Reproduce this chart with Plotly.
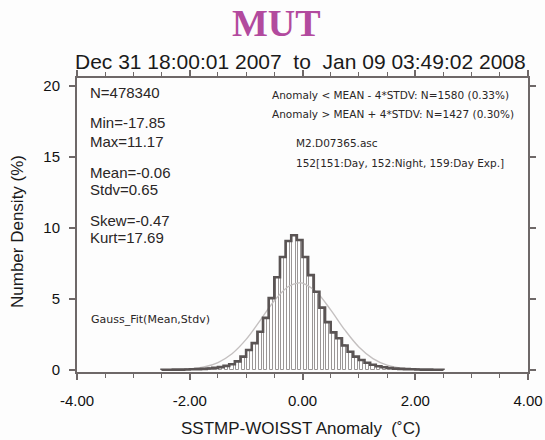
import numpy as np
import plotly.graph_objects as go

# ---- data ----
BIN_START = -2.5
BIN_WIDTH = 0.1
density_pct = [0.02, 0.02, 0.03, 0.03, 0.04, 0.05, 0.06, 0.08, 0.11, 0.15,
               0.20, 0.29, 0.41, 0.61, 0.94, 1.41, 1.89, 2.69, 3.67, 5.06,
               6.53, 7.96, 9.08, 9.49, 9.15, 7.96, 6.68, 5.51, 4.39, 3.37,
               2.65, 2.24, 1.73, 1.29, 0.94, 0.70, 0.51, 0.37, 0.27, 0.19,
               0.14, 0.10, 0.08, 0.06, 0.05, 0.04, 0.03, 0.03, 0.02, 0.02]

gauss_x = [-2.5, -2.25, -2.0, -1.75, -1.5, -1.25, -1.0, -0.75, -0.5, -0.25, -0.06,
           0.0, 0.25, 0.5, 0.75, 1.0, 1.25, 1.5, 1.75, 2.0, 2.25, 2.5]
gauss_y = [0.005, 0.021, 0.071, 0.209, 0.528, 1.149, 2.157, 3.493, 4.881, 5.882, 6.138,
           6.112, 5.478, 4.235, 2.824, 1.623, 0.805, 0.344, 0.127, 0.040, 0.011, 0.003]

x_tick_vals = [-4, -2, 0, 2, 4]
x_tick_text = ["-4.00", "-2.00", "0.00", "2.00", "4.00"]
y_tick_vals = [0, 5, 10, 15, 20]

title_text = "MUT"
subtitle_text = "Dec 31 18:00:01 2007  to  Jan 09 03:49:02 2008"
stats_left = [("N=478340", 93), ("Min=-17.85", 123), ("Max=11.17", 141),
              ("Mean=-0.06", 172), ("Stdv=0.65", 189),
              ("Skew=-0.47", 220), ("Kurt=17.69", 238)]
stats_right = [("Anomaly < MEAN - 4*STDV: N=1580 (0.33%)", 270, 95, 10.5),
               ("Anomaly > MEAN + 4*STDV: N=1427 (0.30%)", 270, 114, 10.5),
               ("M2.D07365.asc", 294, 143, 10.5),
               ("152[151:Day, 152:Night, 159:Day Exp.]", 294, 163, 10.5)]

# ---- derived ----
n = len(density_pct)
left_edges = BIN_START + BIN_WIDTH * np.arange(n)
centers = left_edges + BIN_WIDTH / 2
step_x = list(left_edges) + [left_edges[-1] + BIN_WIDTH]
step_y = list(density_pct) + [density_pct[-1]]

fig = go.Figure()
fig.add_trace(go.Bar(x=centers, y=density_pct, width=BIN_WIDTH * 0.55,
                     marker=dict(color="white", line=dict(color="#9a9696", width=1)),
                     showlegend=False))
fig.add_trace(go.Scatter(x=gauss_x, y=gauss_y, mode="lines",
                         line=dict(color="#c4c0c0", width=1.4, shape="spline"),
                         showlegend=False))
fig.add_trace(go.Scatter(x=[step_x[0]] + step_x + [step_x[-1]],
                         y=[0] + step_y + [0],
                         mode="lines", line=dict(color="#5a5454", width=2.6, shape="hv"),
                         showlegend=False))

W, H = 545, 440
L, R, T, B = 77, 528, 78, 372

def px(xpix):
    return (xpix - L) / (R - L)

def py(ypix):
    return (B - ypix) / (B - T)

ann = []
ann.append(dict(text="<b>" + title_text + "</b>", x=px(276), y=py(23), xref="paper", yref="paper",
                showarrow=False, font=dict(family="Liberation Serif", size=38, color="#b24a9e"),
                xanchor="center", yanchor="middle"))
ann.append(dict(text=subtitle_text, x=px(300), y=py(62), xref="paper", yref="paper",
                showarrow=False, font=dict(family="Liberation Sans", size=21, color="#1a1a1a"),
                xanchor="center", yanchor="middle"))
for t, yp in stats_left:
    ann.append(dict(text=t, x=px(88), y=py(yp), xref="paper", yref="paper", showarrow=False,
                    font=dict(family="Liberation Sans", size=15, color="#2a2626"),
                    xanchor="left", yanchor="middle"))
for t, xp, yp, fs in stats_right:
    ann.append(dict(text=t, x=px(xp), y=py(yp), xref="paper", yref="paper", showarrow=False,
                    font=dict(family="DejaVu Sans", size=fs, color="#2a2626"),
                    xanchor="left", yanchor="middle"))
ann.append(dict(text="Gauss_Fit(Mean,Stdv)", x=px(89), y=py(319), xref="paper", yref="paper",
                showarrow=False, font=dict(family="DejaVu Sans", size=11, color="#2a2626"),
                xanchor="left", yanchor="middle"))
ann.append(dict(text="Number Density (%)", x=px(17), y=py(232), xref="paper", yref="paper",
                showarrow=False, textangle=-90,
                font=dict(family="Liberation Sans", size=17, color="#1a1a1a"),
                xanchor="center", yanchor="middle"))
ann.append(dict(text="SSTMP-WOISST Anomaly  (˚C)", x=px(301), y=py(428), xref="paper", yref="paper",
                showarrow=False, font=dict(family="Liberation Sans", size=17, color="#1a1a1a"),
                xanchor="center", yanchor="middle"))

axis_common = dict(showgrid=False, zeroline=False, showline=True, linecolor="#6e6868",
                   linewidth=2, mirror="ticks", ticks="outside", tickcolor="#6e6868",
                   tickwidth=1.5, ticklen=6, automargin=False,
                   tickfont=dict(family="Liberation Sans", size=15, color="#111111"))

fig.update_layout(
    width=W, height=H,
    margin=dict(l=L, r=W - R, t=T, b=H - B, autoexpand=False),
    paper_bgcolor="#fdfdfd", plot_bgcolor="#fdfdfd",
    bargap=0,
    xaxis=dict(range=[-4, 4], tickvals=x_tick_vals, ticktext=x_tick_text,
               ticklabelstandoff=8,
               minor=dict(dtick=0.5, tick0=0, ticks="outside", ticklen=4,
                          tickcolor="#6e6868", tickwidth=1.2),
               **axis_common),
    yaxis=dict(range=[-0.14, 20.56], tickvals=y_tick_vals, ticklabelstandoff=6, **axis_common),
    annotations=ann,
)
fig.write_html("out.html", config={"displayModeBar": False},
               post_script="document.body.style.margin='0';document.body.style.padding='0';"
                           "document.body.style.overflow='hidden';")
